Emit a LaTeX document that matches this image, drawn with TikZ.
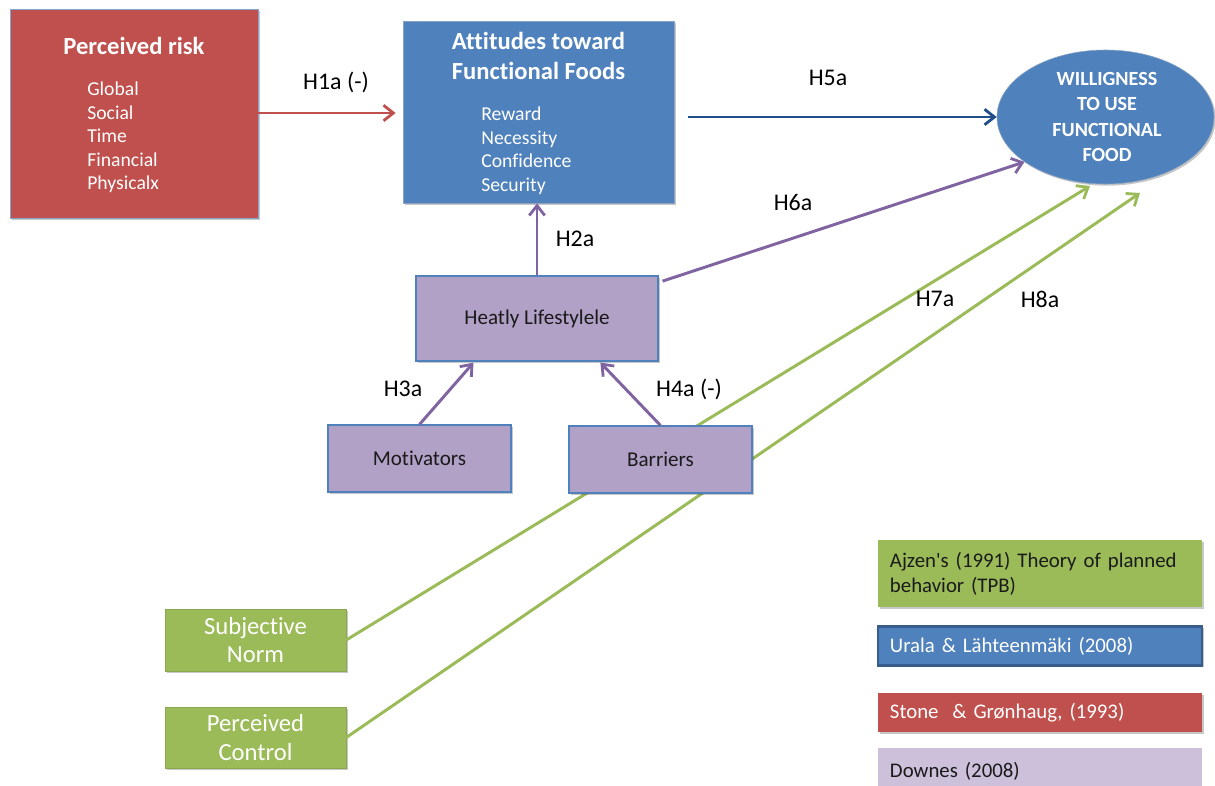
\documentclass[tikz,border=0pt]{standalone}
\usepackage{fontspec}
\setmainfont{Carlito}[Ligatures={TeX,NoCommon}]
\usetikzlibrary{arrows.meta,shapes.geometric,shadows,calc}
\definecolor{riskred}{HTML}{C0504D}
\definecolor{attblue}{HTML}{4F81BD}
\definecolor{edgeblue}{HTML}{385D8A}
\definecolor{navyarrow}{HTML}{1F4E89}
\definecolor{purplearrow}{HTML}{8064A2}
\definecolor{lilac}{HTML}{B2A1C7}
\definecolor{lavender}{HTML}{CCC0DA}
\definecolor{tpbgreen}{HTML}{9BBB59}
\definecolor{inkdark}{HTML}{1A1A1A}
\tikzset{
  x=0.025cm, y=-0.025cm,
  boxshadow/.style={drop shadow={shadow xshift=1.2pt, shadow yshift=-1.2pt, opacity=0.22, fill=black}},
  block/.style={rectangle, inner sep=0pt, boxshadow},
  riskbox/.style={block, fill=riskred, draw=attblue!70, line width=0.6pt},
  attbox/.style={block, fill=attblue, draw=attblue!80!black!60, line width=0.4pt},
  lifebox/.style={block, fill=lilac, draw=attblue, line width=0.8pt, text=inkdark,
    font=\fontsize{15pt}{18pt}\selectfont},
  tpbbox/.style={block, fill=tpbgreen, draw=tpbgreen!90!black, line width=0.3pt, text=white,
    align=center, font=\fontsize{17.5pt}{20.5pt}\selectfont},
  keybox/.style={rectangle, inner sep=0pt, minimum width=8.1cm, text width=7.5cm, align=left,
    font=\fontsize{14.8pt}{17.8pt}\selectfont},
  titletext/.style={text=white, align=center, font=\bfseries\fontsize{17.5pt}{21pt}\selectfont},
  itemtext/.style={text=white, align=left, anchor=north west, inner sep=0pt,
    font=\fontsize{14pt}{16.7pt}\selectfont},
  hyp/.style={text=black, font=\fontsize{17pt}{19pt}\selectfont},
  link/.style={line width=2.1pt, -{Straight Barb[length=7pt,width=11pt,line width=2pt]}},
}
\begin{document}
\begin{tikzpicture}
\clip (0,0) rectangle (1215,785);
\fill[white] (0,0) rectangle (1215,785);

% theory of planned behaviour paths (they run behind the Barriers box)
\node[tpbbox, minimum width=4.525cm, minimum height=1.55cm] (sn) at (255.5,640) {Subjective\\Norm};
\node[tpbbox, minimum width=4.525cm, minimum height=1.525cm] (pc) at (255.5,737.5) {Perceived\\Control};
\coordinate (snend) at (1090,186);
\coordinate (pcend) at (1140,193);
\draw[link, tpbgreen] (sn.east) -- (snend);
\draw[link, tpbgreen] (pc.east) -- (pcend);

% main constructs
\node[riskbox, minimum width=6.2cm, minimum height=5.225cm] (risk) at (134,113.5) {};
\node[titletext] (risktitle) at (134,46) {Perceived risk};
\node[itemtext] (riskitems) at (87,82) {Global\\Social\\Time\\Financial\\Physicalx};

\node[attbox, minimum width=6.775cm, minimum height=4.55cm] (att) at (538.5,112) {};
\node[titletext] (atttitle) at (538.5,56) {Attitudes toward\\Functional Foods};
\node[itemtext] (attitems) at (481,107) {Reward\\Necessity\\Confidence\\Security};

\node[ellipse, fill=attblue, draw=attblue!80!black!60, line width=0.4pt, boxshadow,
  minimum width=5.425cm, minimum height=3.35cm, inner sep=0pt] (will) at (1105.5,117) {};
\node[text=white, align=center, font=\bfseries\fontsize{14.3pt}{18.2pt}\selectfont] (willtext) at (1107,117)
  {WILLIGNESS\\TO USE\\FUNCTIONAL\\FOOD};

\node[lifebox, minimum width=6.05cm, minimum height=2.125cm] (life) at (537,318.5) {Heatly Lifestylele};
\node[lifebox, minimum width=4.575cm, minimum height=1.675cm] (mot) at (419.5,458.5) {Motivators};
\node[lifebox, minimum width=4.575cm, minimum height=1.675cm] (bar) at (660.5,459.5) {Barriers};

% hypothesised paths
\draw[link, riskred, shorten >=5pt] (risk.east |- 0,113) -- (att.west |- 0,113);
\draw[link, navyarrow, shorten <=10pt] (att.east |- 0,117) -- (will.west |- 0,117);
\draw[link, purplearrow] (life.north) -- (life.north |- att.south);
\draw[link, purplearrow, shorten <=3pt] ($(life.north east)+(0,7)$) -- (will.209);
\draw[link, purplearrow, shorten >=1pt] (mot.north) -- ($(life.south west)+(59,0)$);
\draw[link, purplearrow, shorten >=1pt] (bar.north) -- ($(life.south west)+(184,0)$);

\node[hyp] (h1a) at (336,82) {H1a (-)};
\node[hyp] (h5a) at (828,78) {H5a};
\node[hyp] (h2a) at (575,239) {H2a};
\node[hyp] (h6a) at (793,203) {H6a};
\node[hyp] (h3a) at (403,389) {H3a};
\node[hyp] (h4a) at (689,389) {H4a (-)};
\node[hyp] (h7a) at (935,299) {H7a};
\node[hyp] (h8a) at (1040,299) {H8a};

% key to the sources
\node[keybox, fill=tpbgreen, minimum height=1.675cm, text=inkdark, boxshadow] (keytpb) at (1040,573.5)
  {Ajzen\textquotesingle s (1991) Theory of planned behavior (TPB)};
\node[keybox, fill=attblue, draw=edgeblue, line width=1.6pt, minimum height=0.98cm, text=white, boxshadow] (keyura) at (1040,646)
  {Urala \& Lähteenmäki (2008)};
\node[keybox, fill=riskred, minimum height=0.975cm, text=white, boxshadow] (keysto) at (1040,712.5)
  {Stone\ \ \& Grønhaug, (1993)};
\node[keybox, fill=lavender, minimum height=1.3cm, text=inkdark] (keydow) at (1040,774)
  {\raisebox{6pt}{Downes (2008)}};
\end{tikzpicture}
\end{document}
